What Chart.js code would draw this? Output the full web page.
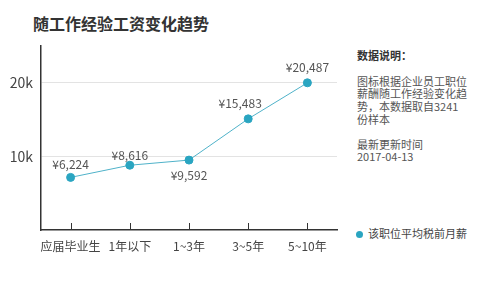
<!DOCTYPE html>
<html lang="zh">
<head>
<meta charset="UTF-8">
<title>随工作经验工资变化趋势</title>
<script src="https://cdn.jsdelivr.net/npm/chart.js@4.4.1/dist/chart.umd.min.js"></script>
<style>
    * { margin: 0; padding: 0; box-sizing: border-box; }
    body {
        width: 500px; height: 289px; background: #fff; position: relative; overflow: hidden;
        font-family: "Noto Sans CJK SC", "Noto Sans", sans-serif; color: #444;
    }
    .title { position: absolute; left: 33px; top: 11px; font-size: 16px; font-weight: bold; color: #333; }
    .chart-box { position: absolute; left: 0; top: 0; width: 345px; height: 289px; }
    .note { position: absolute; left: 357px; top: 49px; width: 140px; font-size: 11px; line-height: 12.7px; color: #555; white-space: nowrap; }
    .note h4 { font-size: 11px; font-weight: bold; color: #333; margin-bottom: 13px; }
    .note p { margin-bottom: 12px; }
    .legend { position: absolute; left: 356px; top: 225px; font-size: 11px; color: #444; }
    .legend span.dot { display: inline-block; width: 7px; height: 7px; border-radius: 50%; background: #2aa5c1; margin-right: 5px; vertical-align: 0px; }
</style>
</head>
<body>
    <div class="title">随工作经验工资变化趋势</div>
    <div class="chart-box"><canvas id="salaryChart"></canvas></div>
    <div class="note">
        <h4>数据说明：</h4>
        <p>图标根据企业员工职位<br>薪酬随工作经验变化趋<br>势，本数据取自3241<br>份样本</p>
        <p>最新更新时间<br>2017-04-13</p>
    </div>
    <div class="legend"><span class="dot"></span>该职位平均税前月薪</div>

<script>
    // data
    const categories = ['应届毕业生', '1年以下', '1~3年', '3~5年', '5~10年'];
    const salary = [7150, 8800, 9500, 15100, 20000];
    const salaryText = ['¥6,224', '¥8,616', '¥9,592', '¥15,483', '¥20,487'];
    const yTicks = [10000, 20000];
    const seriesName = '该职位平均税前月薪';

    const lineColor = '#4fb2c9';
    const pointColor = '#2aa5c1';

    // small tick marks above the x axis + value labels
    const extras = {
        id: 'extras',
        afterDatasetsDraw(chart) {
            const ctx = chart.ctx;
            const x = chart.scales.x;
            const axisY = chart.chartArea.bottom;
            ctx.save();
            ctx.strokeStyle = '#333';
            ctx.lineWidth = 1;
            x.ticks.forEach((t, i) => {
                const px = Math.round(x.getPixelForTick(i)) + 0.5;
                ctx.beginPath();
                ctx.moveTo(px, axisY - 7);
                ctx.lineTo(px, axisY);
                ctx.stroke();
            });

            const meta = chart.getDatasetMeta(0);
            ctx.font = '12px "Noto Sans CJK SC", sans-serif';
            ctx.fillStyle = '#555';
            ctx.textAlign = 'center';
            ctx.textBaseline = 'middle';
            meta.data.forEach((pt, i) => {
                let dx = 0, dy = -15;
                if (i === 0) dy = -13;
                if (i === 1) dy = -10;
                if (i === 2) dy = 15;
                if (i === 3) dx = -8;
                ctx.fillText(salaryText[i], pt.x + dx, pt.y + dy);
            });
            ctx.restore();
        }
    };

    new Chart(document.getElementById('salaryChart'), {
        type: 'line',
        data: {
            labels: categories,
            datasets: [{
                label: seriesName,
                data: salary,
                borderColor: lineColor,
                borderWidth: 1,
                backgroundColor: pointColor,
                pointBackgroundColor: pointColor,
                pointBorderColor: pointColor,
                pointRadius: 4,
                tension: 0
            }]
        },
        options: {
            responsive: true,
            maintainAspectRatio: false,
            animation: false,
            layout: { padding: { top: 46, right: 8, left: 0, bottom: 0 } },
            plugins: { legend: { display: false }, tooltip: { enabled: false } },
            scales: {
                x: {
                    offset: true,
                    grid: { display: false, drawTicks: false },
                    border: { display: true, color: '#333', width: 1.5 },
                    ticks: {
                        padding: 9, color: '#444', maxRotation: 0, minRotation: 0, autoSkip: false,
                        font: { size: 12, family: '"Noto Sans CJK SC", sans-serif' }
                    },
                    afterFit(s) { s.height = 59; }
                },
                y: {
                    min: 0,
                    max: 25000,
                    afterBuildTicks(s) { s.ticks = yTicks.map(v => ({ value: v })); },
                    grid: { color: '#e3e3e3', lineWidth: 1, drawTicks: false },
                    border: { display: true, color: '#333', width: 1.5 },
                    ticks: {
                        padding: 8, color: '#444',
                        font: { size: 14, family: '"Noto Sans CJK SC", sans-serif' },
                        callback: v => (v / 1000) + 'k'
                    },
                    afterFit(s) { s.width = 41; }
                }
            }
        },
        plugins: [extras]
    });
</script>
</body>
</html>
